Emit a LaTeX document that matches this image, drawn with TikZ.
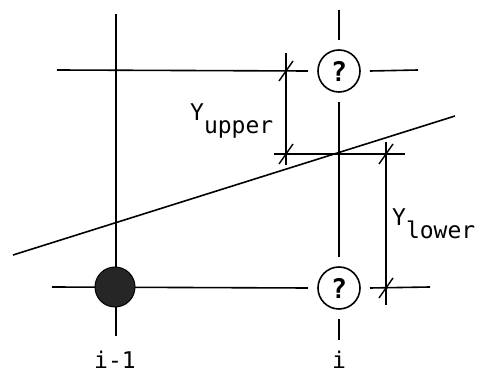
\documentclass[tikz,border=0pt]{standalone}
\usepackage{fontspec}
\setmainfont{DejaVu Sans Mono}
\newcommand{\lowsub}[1]{\raisebox{-0.55em}{#1}}
\begin{document}
\begin{tikzpicture}[x=1pt,y=-1pt,
  ln/.style={line width=1.6pt,black},
  qmark/.style={circle,draw,line width=1.6pt,minimum size=42pt,inner sep=0pt,outer sep=10pt,font=\fontsize{27}{29}\selectfont\bfseries},
  blob/.style={circle,fill=black!85,draw=black,line width=1pt,minimum size=40pt,inner sep=0pt},
  tickln/.style={line width=1.4pt},
  lbl/.style={font=\fontsize{23}{26}\selectfont,inner sep=0pt}]
\useasboundingbox (0,0) rectangle (483,374);
% coordinates
\coordinate (lvT) at (116,14);
\coordinate (lvB) at (116,336);
\coordinate (rvT) at (339,10);
\coordinate (rvB) at (339,340);
\coordinate (thL) at (57,70);
\coordinate (thR) at (418,70);
\coordinate (bhL) at (52,287);
\coordinate (bhR) at (430,287);
\coordinate (mhL) at (274,154);
\coordinate (mhR) at (405,154);
\coordinate (sA) at (13,255);
\coordinate (sB) at (455,116);
\coordinate (duT) at (286,53);
\coordinate (duB) at (286,165);
\coordinate (dlT) at (386,142);
\coordinate (dlB) at (386,305);
\coordinate (tu1) at (286,71);
\coordinate (tu2) at (286,154);
\coordinate (tl1) at (386,154);
\coordinate (tl2) at (386,288);
% question-mark nodes
\node[qmark] (q1) at (339,71) {?};
\node[qmark] (q2) at (339,288) {?};
% grid lines
\draw[ln] (lvT) -- (lvB);
\draw[ln] (thL) -- (q1.west);
\draw[ln] (q1.east) -- (thR);
\draw[ln] (bhL) -- (q2.west);
\draw[ln] (q2.east) -- (bhR);
\draw[ln] (rvT) -- (q1.north);
\draw[ln] (q1.south) -- (q2.north);
\draw[ln] (q2.south) -- (rvB);
\draw[ln] (mhL) -- (mhR);
\draw[ln] (sA) -- (sB);
% dimension lines
\draw[ln,line width=1.3pt] (duT) -- (duB);
\draw[ln,line width=1.3pt] (dlT) -- (dlB);
\foreach \t in {tu1,tu2,tl1,tl2}
  \draw[tickln] ([shift={(-7,10)}]\t) -- ([shift={(7,-10)}]\t);
% filled node
\node[blob] (p0) at (115,287) {};
% labels
\node[lbl,anchor=west] (yu) at (190,121) {Y\lowsub{upper}};
\node[lbl,anchor=west] (yl) at (392,224) {Y\lowsub{lower}};
\node[lbl] (im1) at (115,360) {i-1};
\node[lbl] (ii) at (339,360) {i};
\end{tikzpicture}
\end{document}
